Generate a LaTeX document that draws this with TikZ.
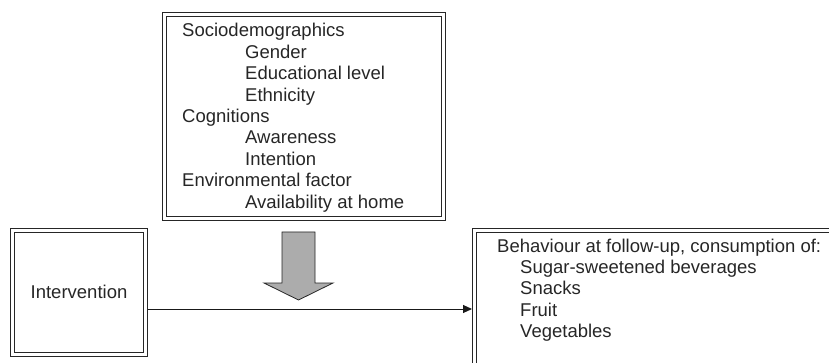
\documentclass[tikz,border=0pt]{standalone}
\usepackage{fontspec}
\setmainfont{Liberation Sans}
\usetikzlibrary{arrows.meta}
\begin{document}
\begin{tikzpicture}[x=1pt,y=-1pt,
  dbox/.style={draw=black!85, double=white, line width=1pt, double distance=2.6pt,
    inner sep=0pt, outer sep=0pt, anchor=north west},
  txt/.style={anchor=base west, inner sep=0pt, font=\fontsize{18.5}{22}\selectfont, text=black!85},
  conn/.style={draw=black!90, line width=1pt, -{Triangle[length=9pt,width=8pt]}},
  block/.style={draw=black!85, line width=0.8pt, fill=gray!65, line join=miter}]
\useasboundingbox (0,0) rectangle (829,363);
% boxes
\node[dbox, minimum width=279.2pt, minimum height=204.2pt] (top) at (164.4,14.4) {};
\node[dbox, minimum width=133.2pt, minimum height=124.2pt] (inter) at (12.4,230.4) {};
\node[dbox, minimum width=420pt, minimum height=200pt] (beh) at (474.4,230.4) {};
% texts top box
\node[txt] (t1) at (182,37) {Sociodemographics};
\node[txt] (t2) at (245,58.4) {Gender};
\node[txt] (t3) at (245,79.8) {Educational level};
\node[txt] (t4) at (245,101.2) {Ethnicity};
\node[txt] (t5) at (182,122.6) {Cognitions};
\node[txt] (t6) at (245,144) {Awareness};
\node[txt] (t7) at (245,165.4) {Intention};
\node[txt] (t8) at (182,186.8) {Environmental factor};
\node[txt] (t9) at (245,208.2) {Availability at home};
% intervention text
\node[txt, anchor=base] (it) at (inter.center |- 0,298) {Intervention};
% behaviour texts
\node[txt] (b1) at (497,252) {Behaviour at follow-up, consumption of:};
\node[txt] (b2) at (520,273.4) {Sugar-sweetened beverages};
\node[txt] (b3) at (520,294.8) {Snacks};
\node[txt] (b4) at (520,316.2) {Fruit};
\node[txt] (b5) at (520,337.6) {Vegetables};
% block arrow
\draw[block] (282,232) -- (315,232) -- (315,283) -- (333,283) -- (298.5,300)
  -- (264,283) -- (282,283) -- cycle;
% connector
\coordinate (ly) at (0,309);
\draw[conn] ([xshift=2.4pt]inter.east |- ly) -- ([xshift=-2.4pt]beh.west |- ly);
\end{tikzpicture}
\end{document}
